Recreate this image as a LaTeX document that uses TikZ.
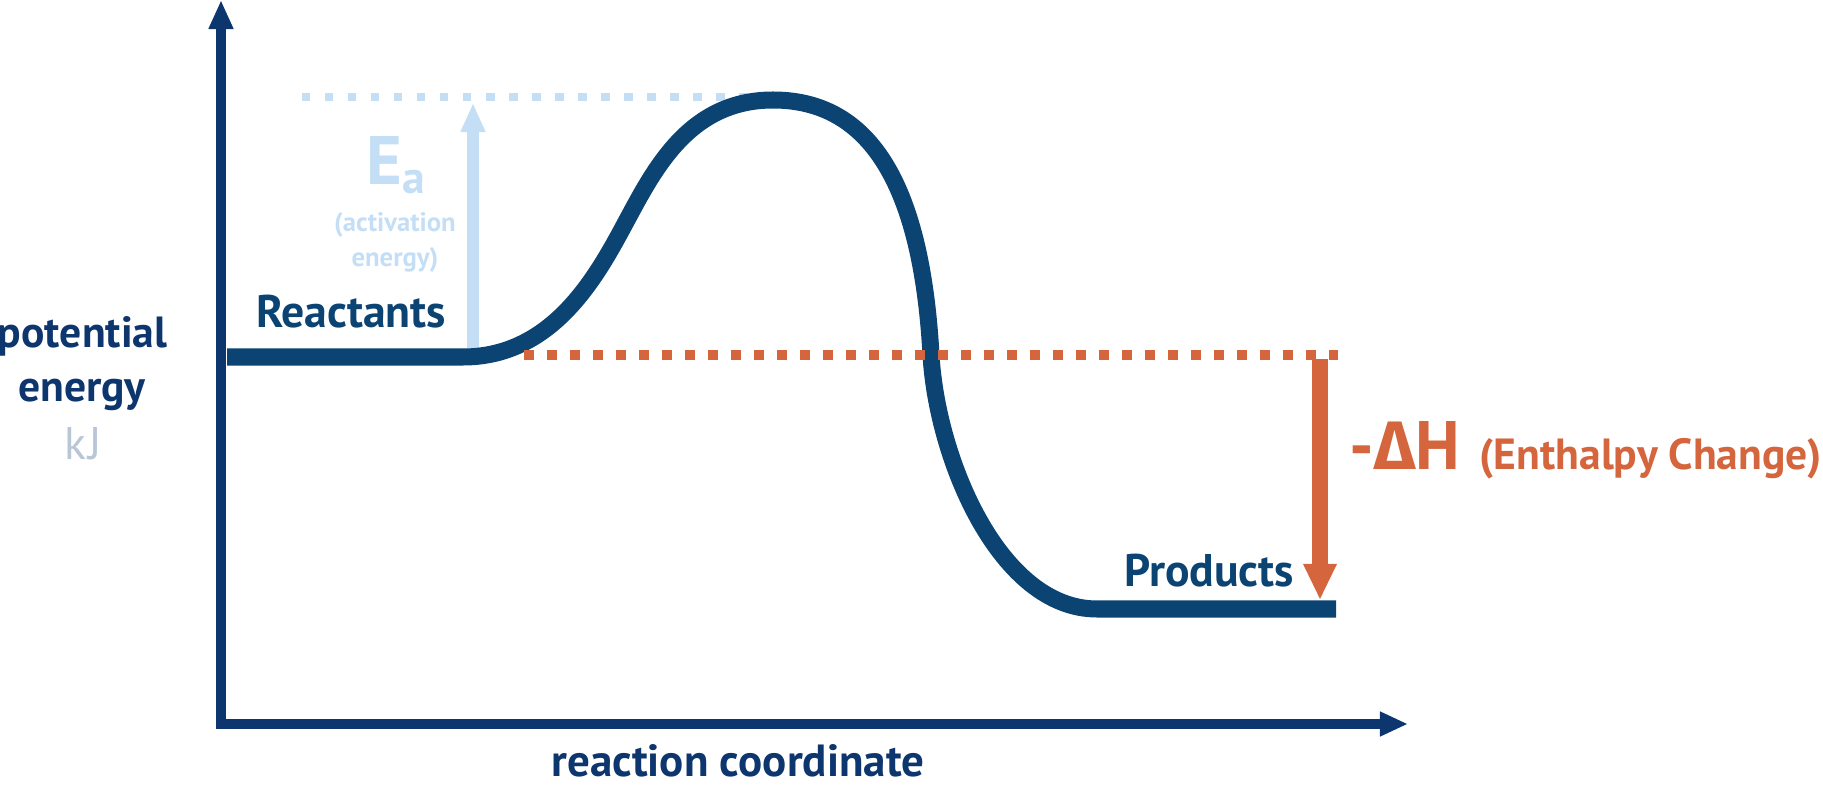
\documentclass[tikz,border=0pt]{standalone}
\usepackage{fontspec}
\setmainfont{PT Sans}
\newfontfamily\deltafont{Fira Sans}
\usetikzlibrary{arrows.meta}
\definecolor{navy}{RGB}{11,67,115}
\definecolor{axisblue}{RGB}{13,53,110}
\definecolor{paleblue}{RGB}{196,223,245}
\definecolor{rust}{RGB}{212,101,60}
\definecolor{greyblue}{RGB}{184,198,216}

\begin{document}
\begin{tikzpicture}[x=0.01cm,y=-0.01cm,
    lbl/.style={inner sep=0pt,text=navy,font=\bfseries\fontsize{13}{13}\selectfont},
    note/.style={inner sep=0pt,text=paleblue,align=center,font=\bfseries\fontsize{7.6}{10}\selectfont},
    big/.style={inner sep=0pt,font=\bfseries\fontsize{19.5}{19.5}\selectfont}]
    \useasboundingbox (0,0) rectangle (1823,785);
    % axes
    \coordinate (origin) at (221,724);
    \coordinate (ytip) at (221,0);
    \coordinate (xtip) at (1408,724);
    \draw[axisblue,line width=0.105cm,{Triangle[width=0.23cm,length=0.29cm]}-{Triangle[width=0.23cm,length=0.28cm]}] (ytip) -- (origin) -- (xtip);
    % activation energy level
    \coordinate (eabot) at (473,349);
    \coordinate (eatop) at (473,103);
    \draw[paleblue,line width=0.08cm,dash pattern=on 0.084cm off 0.146cm] (302,97) -- (760,97);
    \draw[paleblue,line width=0.11cm,-{Triangle[width=0.23cm,length=0.29cm]}] (eabot) -- (eatop);
    % energy profile
    \coordinate (reactL) at (227,357);
    \coordinate (reactR) at (463,357);
    \coordinate (peak) at (773,100);
    \coordinate (prodL) at (1097,609);
    \coordinate (prodR) at (1336,609);
    \draw[navy,line width=0.17cm] (reactL) -- (reactR)
        .. controls (555,357) and (599,272) .. (627,220)
        .. controls (655,168) and (690,100) .. (peak)
        .. controls (873,100) and (922,190) .. (931,355)
        .. controls (937,460) and (1000,609) .. (prodL) -- (prodR);
    % enthalpy change
    \coordinate (dhtop) at (1320,359);
    \coordinate (dhtip) at (1320,600);
    \draw[rust,line width=0.09cm,dash pattern=on 0.095cm off 0.135cm] (524,355) -- (1338,355);
    \draw[rust,line width=0.16cm,-{Triangle[width=0.31cm,length=0.36cm]}] (dhtop) -- (dhtip);
    % labels
    \node[lbl,text=axisblue,anchor=base,font=\bfseries\fontsize{12.4}{12.4}\selectfont] (ylab1) at (82.5,348) {potential};
    \node[lbl,text=axisblue,anchor=base,font=\bfseries\fontsize{12.4}{12.4}\selectfont] (ylab2) at (82,402) {energy};
    \node[lbl,text=greyblue,anchor=base,font=\fontsize{13}{13}\selectfont] (yunit) at (83,460) {k\kern0.02cm J};
    \node[lbl,text=axisblue,anchor=base,font=\bfseries\fontsize{12.8}{12.8}\selectfont] (xlab) at (738,776) {reaction coordinate};
    \node[lbl,anchor=base] (react) at (351,328) {Reactants};
    \node[lbl,anchor=base] (prod) at (1209,587) {Products};
    \node[big,text=paleblue,anchor=base west] (ea) at (366,185) {E\raisebox{-0.08cm}{\fontsize{13}{13}\selectfont a}};
    \node[note,anchor=base] (eanote) at (395,267) {(activation\\energy)};
    \node[big,text=rust,anchor=base west] (dh) at (1349,470) {-{\deltafont\bfseries Δ}H};
    \node[lbl,text=rust,anchor=base west,font=\bfseries\fontsize{12.4}{12.4}\selectfont] (dhnote) at (1479,470) {(Enthalpy Change)};
\end{tikzpicture}
\end{document}
